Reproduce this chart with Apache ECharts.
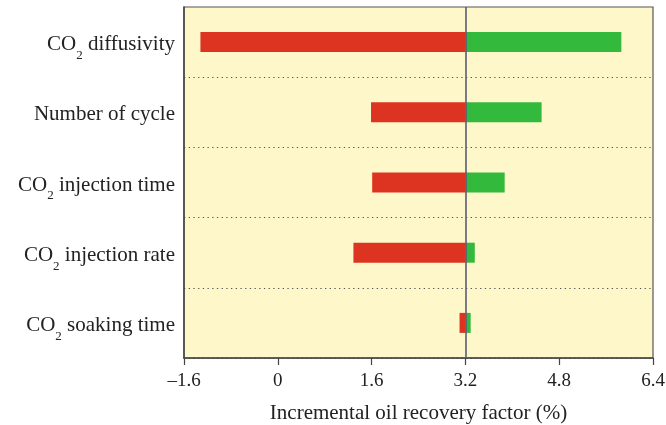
<!DOCTYPE html>
<html><head><meta charset="utf-8">
<script src="https://cdn.jsdelivr.net/npm/echarts@6/dist/echarts.min.js"></script>
<style>html,body{margin:0;padding:0;background:#fff}#c{width:666px;height:425px}</style>
</head><body><div id="c"></div>
<script>
const categories = ['CO2 diffusivity', 'Number of cycle', 'CO2 injection time', 'CO2 injection rate', 'CO2 soaking time'];
const lowValues = [-1.32, 1.59, 1.61, 1.29, 3.10];
const highValues = [5.86, 4.50, 3.87, 3.36, 3.29];
const baseValue = 3.2;
const xTicks = [-1.6, 0, 1.6, 3.2, 4.8, 6.4];

const FONT = '"Liberation Serif", "DejaVu Serif", serif';
const chart = echarts.init(document.getElementById('c'), null, {renderer: 'canvas'});

function barRender(params, api) {
  const y = api.value(2);
  const s = api.coord([api.value(0), y]);
  const e = api.coord([api.value(1), y]);
  const h = 20;
  return {
    type: 'rect',
    shape: {x: s[0], y: s[1] - h / 2, width: e[0] - s[0], height: h},
    style: {fill: api.visual('color')}
  };
}

const redData = categories.map((c, i) => [lowValues[i], baseValue, i]);
const greenData = categories.map((c, i) => [baseValue, highValues[i], i]);

chart.setOption({
  animation: false,
  grid: {left: 184, right: 13, top: 7, bottom: 67, outerBoundsMode: 'none', containLabel: false,
    show: true, backgroundColor: '#fef7ca', borderColor: '#555', borderWidth: 1.2},
  xAxis: {
    type: 'value', min: xTicks[0], max: xTicks[xTicks.length - 1], interval: 1.6,
    name: 'Incremental oil recovery factor (%)', nameLocation: 'middle', nameGap: 45,
    nameTextStyle: {fontFamily: FONT, fontSize: 21, color: '#222'},
    axisLine: {show: true, onZero: false, lineStyle: {color: '#444', width: 1.5}},
    axisTick: {show: true, length: 7, lineStyle: {color: '#444', width: 1.2}},
    axisLabel: {fontFamily: FONT, fontSize: 19, color: '#222', margin: 14,
      formatter: v => String(+(+v).toFixed(1)).replace('-', '\u2013')},
    splitLine: {show: false}
  },
  yAxis: {
    type: 'category', data: categories, inverse: true,
    axisLine: {show: true, onZero: false, lineStyle: {color: '#444', width: 1.5}},
    axisTick: {show: false},
    splitLine: {show: true, interval: (i) => i > 0, lineStyle: {color: '#555', width: 1, type: [1.3, 3.4]}},
    axisLabel: {
      margin: 9, color: '#222',
      formatter: v => v.startsWith('CO2') ? '{a|CO}{sub|2}{a|' + v.slice(3) + '}' : '{a|' + v + '}',
      rich: {
        a: {fontFamily: FONT, fontSize: 21, color: '#222', lineHeight: 26, verticalAlign: 'bottom'},
        sub: {fontFamily: FONT, fontSize: 13, color: '#222', lineHeight: 26, verticalAlign: 'bottom', padding: [0, 0, -7, 0]}
      }
    }
  },
  series: [
    {type: 'custom', renderItem: barRender, data: redData, itemStyle: {color: '#dd3421'},
     encode: {x: [0, 1], y: 2}, z: 2},
    {type: 'custom', renderItem: barRender, data: greenData, itemStyle: {color: '#33b93b'},
     encode: {x: [0, 1], y: 2}, z: 2},
    {type: 'line', data: [], z: 5,
     markLine: {silent: true, symbol: 'none', label: {show: false},
       lineStyle: {color: '#5b5b78', width: 1.6, type: 'solid'},
       data: [{xAxis: baseValue}]}}
  ]
});
</script></body></html>
